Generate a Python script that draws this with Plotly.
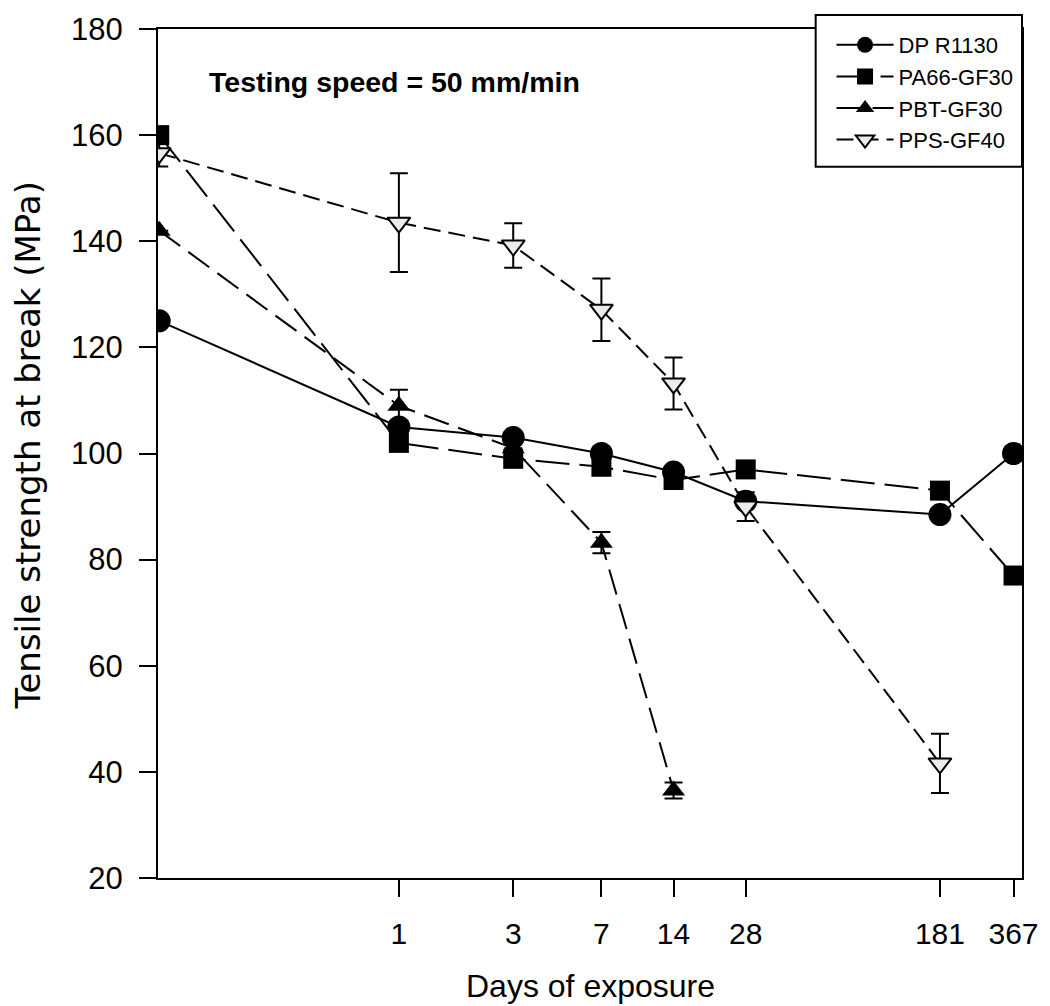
import plotly.graph_objects as go

# Exposure times (days); day 0 is drawn at 0.1 on the logarithmic axis
days = [0, 1, 3, 7, 14, 28, 181, 367]
tick_days = [1, 3, 7, 14, 28, 181, 367]
tick_labels = ["1", "3", "7", "14", "28", "181", "367"]

dp_r1130 = [125, 105, 103, 100, 96.5, 91, 88.5, 100]
pa66_gf30 = [160, 102, 99, 97.5, 95, 97, 93, 77]
pbt_days = [0, 1, 3, 7, 14]
pbt_gf30 = [142, 109, 101, 83.2, 36.5]
pbt_err = [None, 3, None, 2, 1.5]
pps_days = [0, 1, 3, 7, 14, 28, 181]
pps_gf40 = [156.6, 143.5, 139.2, 127.1, 113.2, 90, 41.6]
pps_err = [2.5, 9.3, 4.2, 5.9, 4.9, 2.7, 5.6]


def xpos(ds):
    return [0.1 if d == 0 else d for d in ds]


FONT = "Liberation Sans, Arial, Helvetica, sans-serif"
L, R, T, B = 158, 21, 28, 128
PW, PH = 1050 - L - R, 1006 - T - B


def px_x(px):
    return (px - L) / PW


def px_y(py):
    return (1006 - B - py) / PH


fig = go.Figure()
fig.add_trace(go.Scatter(
    x=xpos(days), y=dp_r1130, name="DP R1130", mode="lines+markers",
    line=dict(color="black", width=2),
    marker=dict(symbol="circle", size=23, color="black"),
    legendgroup="a"))
fig.add_trace(go.Scatter(
    x=xpos(days), y=pa66_gf30, name="PA66-GF30", mode="lines+markers",
    line=dict(color="black", width=2, dash="34px,10px"),
    marker=dict(symbol="square", size=20, color="black"),
    legendgroup="b"))
fig.add_trace(go.Scatter(
    x=xpos(pbt_days), y=pbt_gf30, name="PBT-GF30", mode="lines+markers",
    line=dict(color="black", width=2, dash="26px,10px"),
    marker=dict(symbol="triangle-up", size=20, color="black"),
    error_y=dict(type="data", array=pbt_err, color="black", thickness=2, width=9),
    legendgroup="c"))
fig.add_trace(go.Scatter(
    x=xpos(pps_days), y=pps_gf40, name="PPS-GF40", mode="lines+markers",
    line=dict(color="black", width=2, dash="17px,8px"),
    marker=dict(symbol="triangle-down", size=20, color="#ebebeb",
                line=dict(color="black", width=2)),
    error_y=dict(type="data", array=pps_err, color="black", thickness=2, width=9),
    legendgroup="d"))

fig.update_layout(
    width=1050, height=1006,
    margin=dict(l=L, r=R, t=T, b=B),
    paper_bgcolor="white", plot_bgcolor="white",
    font=dict(family=FONT, color="black"),
    showlegend=True,
    legend=dict(
        x=px_x(837), y=px_y(23), xanchor="left", yanchor="top",
        bgcolor="rgba(0,0,0,0)", borderwidth=0,
        font=dict(family=FONT, size=22, color="black"),
        itemwidth=57, tracegroupgap=0, traceorder="normal"),
    shapes=[
        dict(type="rect", xref="paper", yref="paper",
             x0=px_x(821), x1=px_x(1029), y0=px_y(166), y1=px_y(14),
             fillcolor="white", line=dict(color="black", width=2), layer="above"),
    ],
    annotations=[
        dict(text="<b>Testing speed = 50 mm/min</b>", xref="paper", yref="paper",
             x=px_x(207), y=px_y(81), xanchor="left", yanchor="middle",
             showarrow=False, font=dict(family=FONT, size=28.5, color="black")),
        dict(text="Tensile strength at break (MPa)", xref="paper", yref="paper",
             x=px_x(26), y=px_y(445), xanchor="center", yanchor="middle",
             textangle=-90, showarrow=False,
             font=dict(family="DejaVu Sans, sans-serif", size=34, color="black")),
        dict(text="Days of exposure", xref="paper", yref="paper",
             x=0.5, y=px_y(986), xanchor="center", yanchor="middle",
             showarrow=False, font=dict(family=FONT, size=32, color="black")),
    ],
)

fig.update_xaxes(
    type="log", range=[-1.005, 2.6],
    tickmode="array", tickvals=tick_days, ticktext=tick_labels,
    ticks="outside", ticklen=17, tickwidth=2, tickcolor="black",
    showline=True, linewidth=2, linecolor="black", mirror=True,
    showgrid=False, zeroline=False,
    tickfont=dict(family=FONT, size=30, color="black"),
    ticklabelstandoff=11)
fig.update_yaxes(
    range=[20, 180], tickmode="linear", tick0=20, dtick=20,
    ticks="outside", ticklen=17, tickwidth=2, tickcolor="black",
    showline=True, linewidth=2, linecolor="black", mirror=True,
    showgrid=False, zeroline=False,
    tickfont=dict(family=FONT, size=31, color="black"),
    ticklabelstandoff=10)

fig.write_html("out.html")
